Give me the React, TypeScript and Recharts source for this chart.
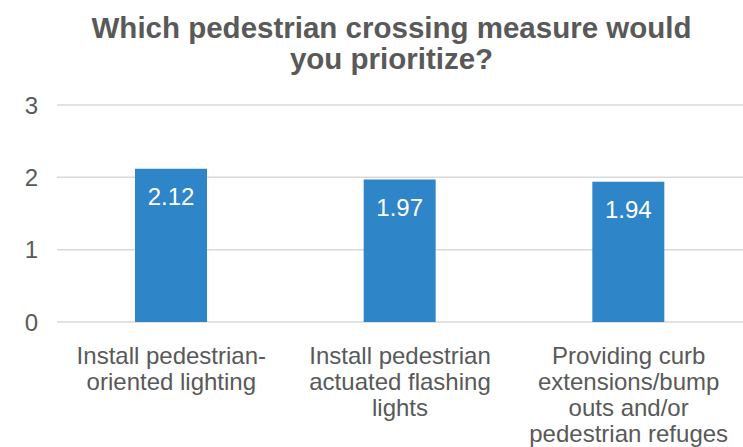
import React from "react";
import { BarChart, Bar, XAxis, YAxis, CartesianGrid, LabelList } from "recharts";

const categories = ["Install pedestrian-oriented lighting", "Install pedestrian actuated flashing lights", "Providing curb extensions/bump outs and/or pedestrian refuges"];
const categoryLines = [
  ["Install pedestrian-", "oriented lighting"],
  ["Install pedestrian", "actuated flashing", "lights"],
  ["Providing curb", "extensions/bump", "outs and/or", "pedestrian refuges"],
];
const values = [2.12, 1.97, 1.94];
const yTicks = [0, 1, 2, 3];
const titleLines = ["Which pedestrian crossing measure would", "you prioritize?"];

const data = categories.map((c, i) => ({ name: c, idx: i, value: values[i] }));

const FONT = "'Liberation Sans', Arial, sans-serif";
const GRAY = "#595959";
const FS = 24;

const XTick = (props: any) => {
  const { x, y, payload } = props;
  const lines = categoryLines[payload.index] || [payload.value];
  return (
    <g transform={`translate(${x},${y})`}>
      <text textAnchor="middle" fill={GRAY} fontSize={FS} fontFamily={FONT}>
        {lines.map((l: string, i: number) => (
          <tspan key={i} x={0} y={34 + i * 26}>{l}</tspan>
        ))}
      </text>
    </g>
  );
};

export default function App() {
  return (
    <div style={{ position: "absolute", left: 0, top: 0, width: 743, height: 447, background: "#fff", overflow: "hidden" }}>
      <div style={{ position: "absolute", left: 20, top: 12, width: 743, textAlign: "center", fontFamily: FONT, fontWeight: "bold", fontSize: 29.5, lineHeight: "31px", color: GRAY }}>
        {titleLines.map((t, i) => <div key={i}>{t}</div>)}
      </div>
      <BarChart width={743} height={447} data={data} margin={{ top: 105, right: 0, left: 0, bottom: 95 }}>
        <CartesianGrid vertical={false} stroke="#d9d9d9" strokeWidth={1.5} />
        <XAxis dataKey="name" axisLine={false} tickLine={false} tick={<XTick />} interval={0} height={30} />
        <YAxis domain={[0, 3]} ticks={yTicks} axisLine={false} tickLine={false} width={57} tickMargin={13}
          tick={{ fill: GRAY, fontSize: FS, fontFamily: FONT }} />
        <Bar dataKey="value" fill="#2E86C8" barSize={72} isAnimationActive={false}>
          <LabelList dataKey="value" position="insideTop" offset={19} fill="#ffffff" fontSize={FS} fontFamily={FONT} />
        </Bar>
      </BarChart>
    </div>
  );
}
